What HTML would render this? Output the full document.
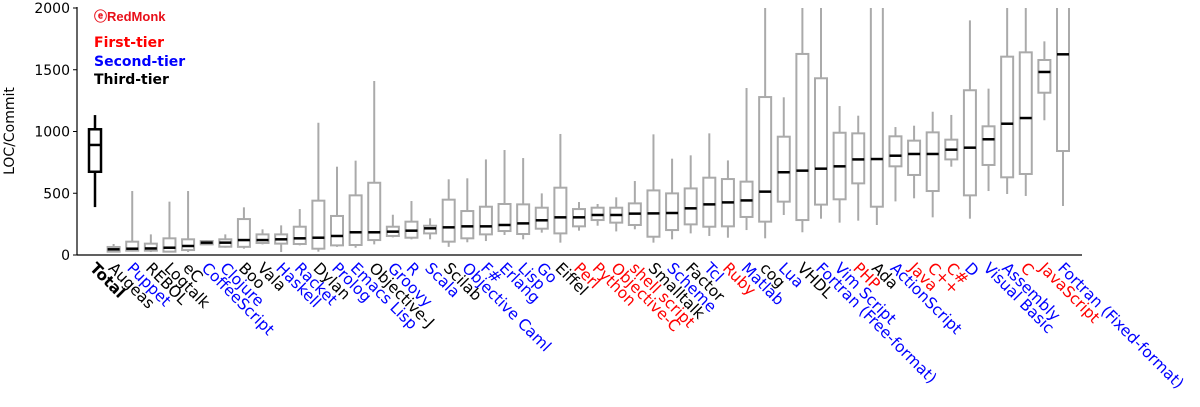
<!DOCTYPE html>
<html><head><meta charset="utf-8"><style>
html,body{margin:0;padding:0;background:#fff;}
svg{display:block;font-family:"DejaVu Sans","Liberation Sans",sans-serif;}
</style></head><body>
<svg id="chart" width="1200" height="407" viewBox="0 0 1200 407" xmlns="http://www.w3.org/2000/svg">
<defs><clipPath id="plotclip"><rect x="77" y="8" width="1010" height="250"/></clipPath></defs>
<g id="yaxis"></g>
<text x="0" y="0" transform="translate(14,131) rotate(-90)" text-anchor="middle" font-size="14" fill="#000">LOC/Commit</text>
<g id="boxes" clip-path="url(#plotclip)"></g>
<line x1="77" y1="7" x2="77" y2="255" stroke="#000" stroke-width="1.2"/>
<line x1="77" y1="255" x2="1082" y2="255" stroke="#000" stroke-width="1.2"/>
<g id="xlabels"></g>
<g>
<text x="94" y="21" font-size="13" font-weight="bold" fill="#e8101a" font-family="Liberation Sans, sans-serif">ⓔRedMonk</text>
<text x="94" y="47" font-size="14" font-weight="bold" fill="#ff0000">First-tier</text>
<text x="94" y="66" font-size="14" font-weight="bold" fill="#0000ff">Second-tier</text>
<text x="94" y="84" font-size="14" font-weight="bold" fill="#000">Third-tier</text>
</g>
</svg>
<script>
const categories = ["Total","Augeas","Puppet","REBOL","Logtalk","eC","CoffeeScript","Clojure","Boo","Vala","Haskell","Racket","Dylan","Prolog","Emacs Lisp","Objective-J","Groovy","R","Scala","Scilab","Objective Caml","F#","Erlang","Lisp","Go","Eiffel","Perl","Python","Objective-C","shell script","Smalltalk","Scheme","Factor","Tcl","Ruby","Matlab","cog","Lua","VHDL","Fortran (Free-format)","Vim Script","PHP","Ada","ActionScript","Java","C++","C#","D","Visual Basic","Assembly","C","JavaScript","Fortran (Fixed-format)"];
const tiers = [0,3,2,3,3,3,2,2,3,3,2,2,3,2,2,3,2,2,2,3,2,2,2,2,2,3,1,1,1,1,3,2,3,2,1,2,3,2,3,2,2,1,3,2,1,1,1,2,2,2,1,1,2];
const whiskerLow = [388,24,28,24,24,24,82,59,51,86,24,78,27,66,59,86,143,127,127,66,103,113,162,127,181,100,197,237,191,208,100,127,175,154,140,202,135,324,184,294,262,278,243,434,459,305,715,294,518,494,478,1091,397];
const q1 = [674,27,35,35,27,40,86,67,66,97,92,89,51,78,81,121,154,140,175,108,135,167,194,170,213,175,232,283,262,243,148,202,248,229,232,308,270,432,283,408,451,580,391,718,648,518,774,483,729,629,656,1314,842];
const medians = [891,46,51,53,59,73,100,100,121,121,127,135,140,154,184,184,189,197,216,224,232,232,243,256,281,305,305,324,324,335,337,340,378,410,426,442,513,670,683,699,718,774,777,804,818,818,853,869,937,1063,1109,1482,1625];
const q3 = [1018,65,108,92,135,127,113,127,291,167,167,229,440,316,483,585,229,270,237,448,356,391,413,410,383,545,372,383,383,418,523,499,539,626,615,594,1279,958,1628,1431,990,985,2100,961,926,993,934,1334,1042,1606,1641,1579,2100];
const whiskerHigh = [1133,89,518,167,432,518,121,167,386,208,240,372,1071,715,764,1409,326,437,297,613,621,774,850,785,499,980,429,413,467,599,977,780,807,985,766,1352,2100,1277,2100,2100,1206,1128,2200,1036,1047,1160,1134,1900,1347,2100,2100,1730,2200];
const yTicks = [0,500,1000,1500,2000];
const tierColors = ["#000","#ff0000","#0000ff","#000"];

const NS = "http://www.w3.org/2000/svg";
const yMin = 0, yMax = 2000, yPix0 = 255, yPix1 = 8;
function yScale(v){ return yPix0 - (v - yMin) / (yMax - yMin) * (yPix0 - yPix1); }
const xFirst = 95, xLast = 1063;
function xScale(i){ return xFirst + i * (xLast - xFirst) / (categories.length - 1); }
function mk(tag, attrs){ const e = document.createElementNS(NS, tag); for (const k in attrs) e.setAttribute(k, attrs[k]); return e; }

const yaxis = document.getElementById('yaxis');
yTicks.forEach(t => {
  const y = yScale(t);
  const tick = mk('line', {x1:73, y1:y, x2:77, y2:y, stroke:'#000', 'stroke-width':1});
  
  
  yaxis.appendChild(tick);
  const lbl = mk('text', {x:70, y:y+5, 'text-anchor':'end', 'font-size':14, fill:'#000'});
  
  
  lbl.textContent = String(t);
  yaxis.appendChild(lbl);
});

const boxes = document.getElementById('boxes');
const xl = document.getElementById('xlabels');
categories.forEach((c, i) => {
  const x = xScale(i);
  const isTotal = i === 0;
  const col = isTotal ? '#000' : '#aaaaaa';
  const g = mk('g', {});
  
  
  const w = 12;
  const sw = isTotal ? 2.5 : 2;
  g.appendChild(mk('line', {x1:x, y1:yScale(whiskerLow[i]), x2:x, y2:yScale(q1[i]), stroke:col, 'stroke-width':sw}));
  g.appendChild(mk('line', {x1:x, y1:yScale(q3[i]), x2:x, y2:yScale(whiskerHigh[i]), stroke:col, 'stroke-width':sw}));
  g.appendChild(mk('rect', {x:x-w/2, y:yScale(q3[i]), width:w, height:yScale(q1[i])-yScale(q3[i]), fill:'none', stroke:col, 'stroke-width':sw}));
  g.appendChild(mk('line', {x1:x-w/2, y1:yScale(medians[i]), x2:x+w/2, y2:yScale(medians[i]), stroke:'#000', 'stroke-width':2.5}));
  boxes.appendChild(g);

  const bx = x - 6, by = 269;
  const t = mk('text', {x:bx, y:by, transform:'rotate(45,' + bx + ',' + by + ')', 'font-size':15.5, fill:tierColors[tiers[i]]});
  if (isTotal) t.setAttribute('font-weight', 'bold');
  
  
  t.textContent = c;
  xl.appendChild(t);
});
</script>
</body></html>
